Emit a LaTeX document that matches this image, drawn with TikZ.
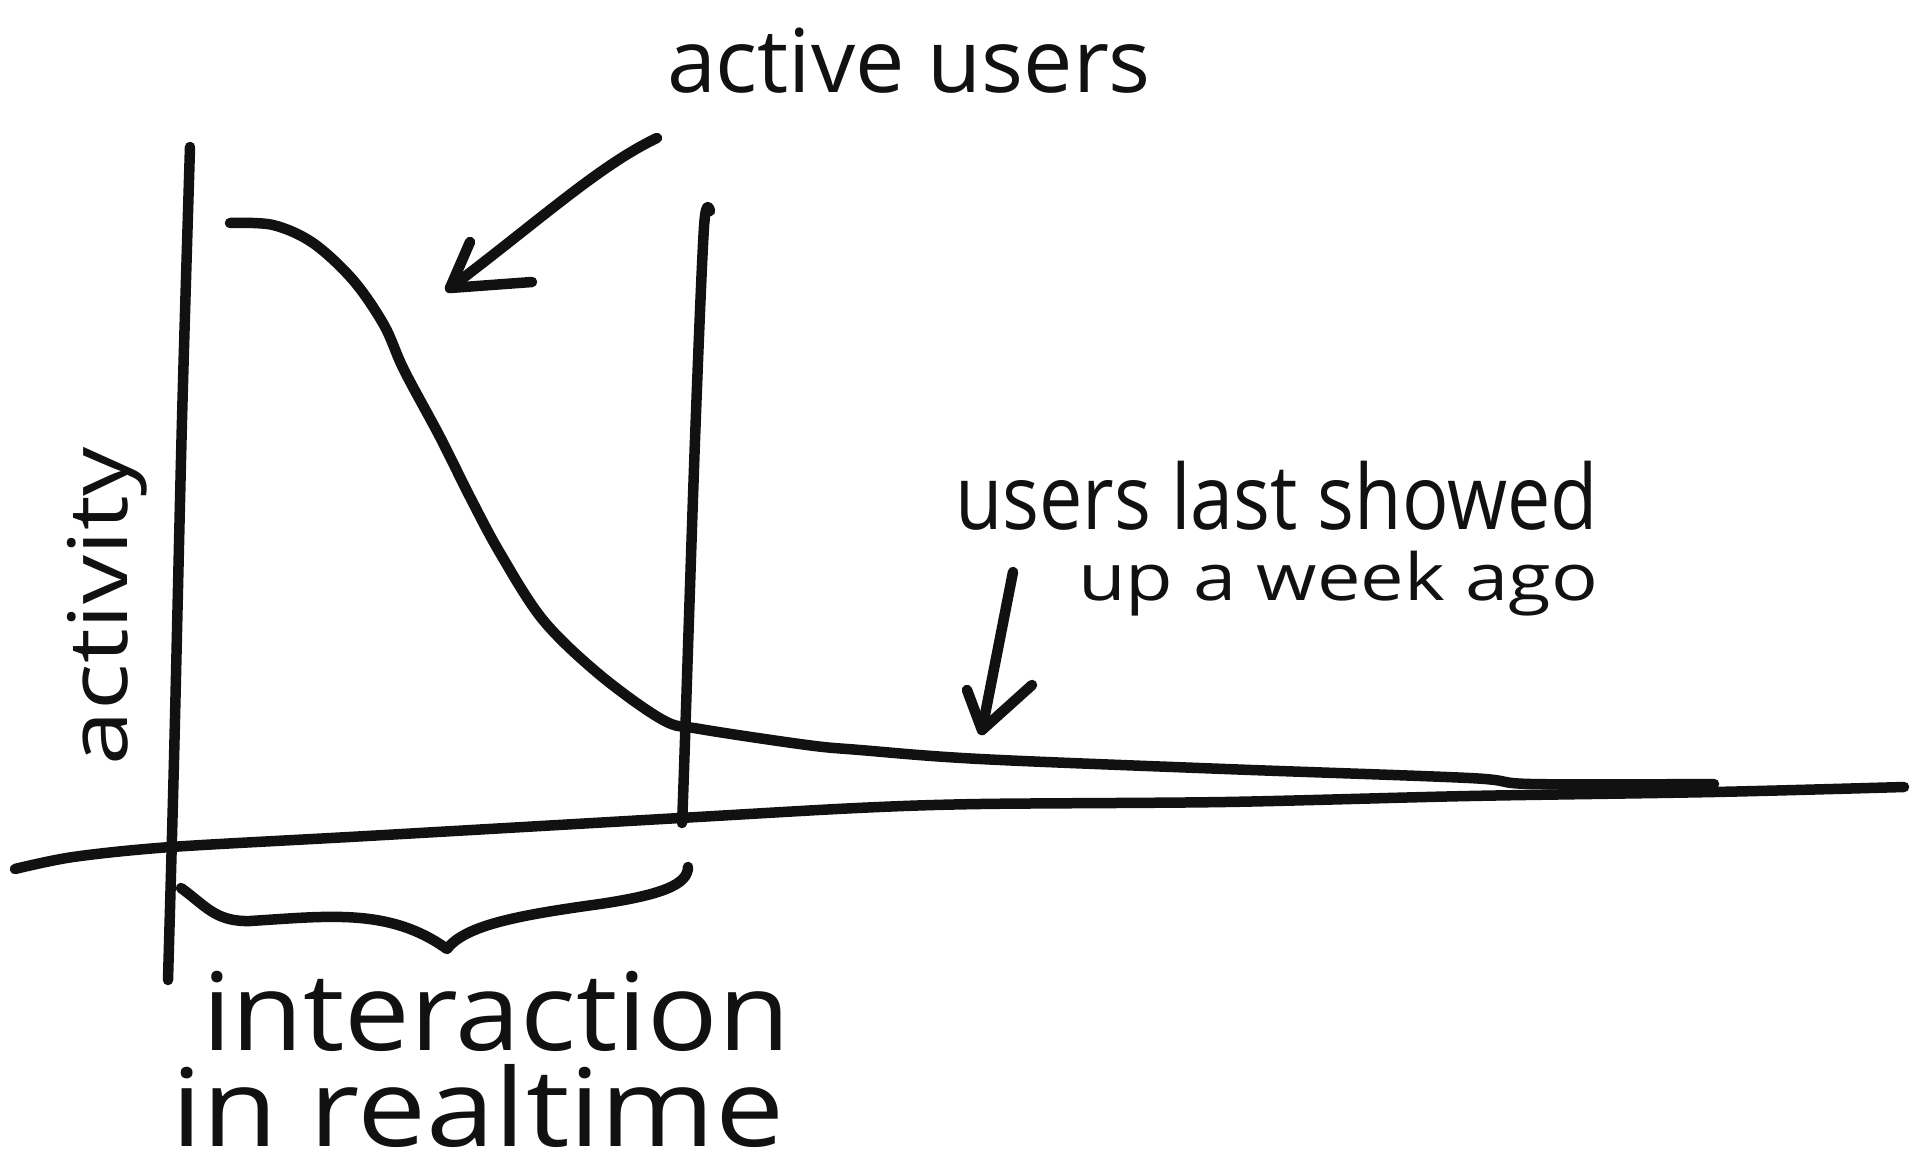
\documentclass[tikz,border=0pt]{standalone}
\usepackage{fontspec}
\usepackage{graphicx}
\setmainfont{Open Sans}
% text set at a given size, stretched to a given width
\newcommand\handtext[3]{\resizebox{#1}{\height}{\fontsize{#2}{#2}\selectfont #3}}
\definecolor{ink}{HTML}{111111}
\tikzset{
  pen/.style={line width=10.5pt, line cap=round, line join=round, draw=ink},
  lbl/.style={inner sep=0pt, outer sep=0pt, anchor=base west, text=ink},
}
\begin{document}
\begin{tikzpicture}[x=1pt, y=-1pt]
\useasboundingbox[fill=white] (0,0) rectangle (1920,1162);

% axes
\draw[pen] plot[smooth] coordinates {(190,147) (182,420) (174,760) (168,980)};
\draw[pen] plot[smooth] coordinates {(15,869) (73,857) (171,847) (367,836) (680,818) (857,808) (980,804) (1225,802) (1469,796) (1714,792) (1904,787)};
% boundary of the realtime window
\draw[pen] plot[smooth] coordinates {(710,211) (704,227) (695,440) (684,770) (682,823)};

% activity curve
\draw[pen] plot[smooth, tension=0.55] coordinates {(230,223) (273,225) (313,243) (353,280) (384,325) (404,370) (440,437) (470,497) (500,553) (543,620) (600,675) (663,720) (700,729) (807,745) (860,750) (980,759) (1225,769) (1469,778) (1531,784) (1714,784)};

% arrow to the active users
\coordinate (a1s) at (657,138);
\coordinate (a1t) at (450,288);
\draw[pen] (a1s) .. controls (600,165) and (540,220) .. (a1t);
\draw[pen] (470,242) -- (a1t) -- (532,282);

% arrow to the long tail
\coordinate (a2s) at (1013,572);
\coordinate (a2t) at (982,730);
\draw[pen] (a2s) -- (a2t);
\draw[pen] (967,690) -- (a2t) -- (1032,685);

% brace under the realtime window
\draw[pen] (181,888) .. controls (205,905) and (215,922) .. (250,921)
  .. controls (330,916) and (390,908) .. (447,949)
  .. controls (465,925) and (520,915) .. (600,904)
  .. controls (660,895) and (688,885) .. (688,867);

% labels
\node[lbl] (tActive) at (667,92) {\handtext{484pt}{88pt}{active users}};
\node[lbl, rotate=90] (tAct) at (127,765) {\handtext{318pt}{82pt}{activity}};
\node[lbl] (tLast) at (955,529) {\handtext{643pt}{90pt}{users last showed}};
\node[lbl] (tWeek) at (1078,600) {\handtext{520pt}{65pt}{up a week ago}};
\node[lbl] (tInter) at (202,1050) {\handtext{588pt}{108pt}{interaction}};
\node[lbl] (tReal) at (171,1146) {\handtext{613pt}{108pt}{in realtime}};
\end{tikzpicture}
\end{document}
